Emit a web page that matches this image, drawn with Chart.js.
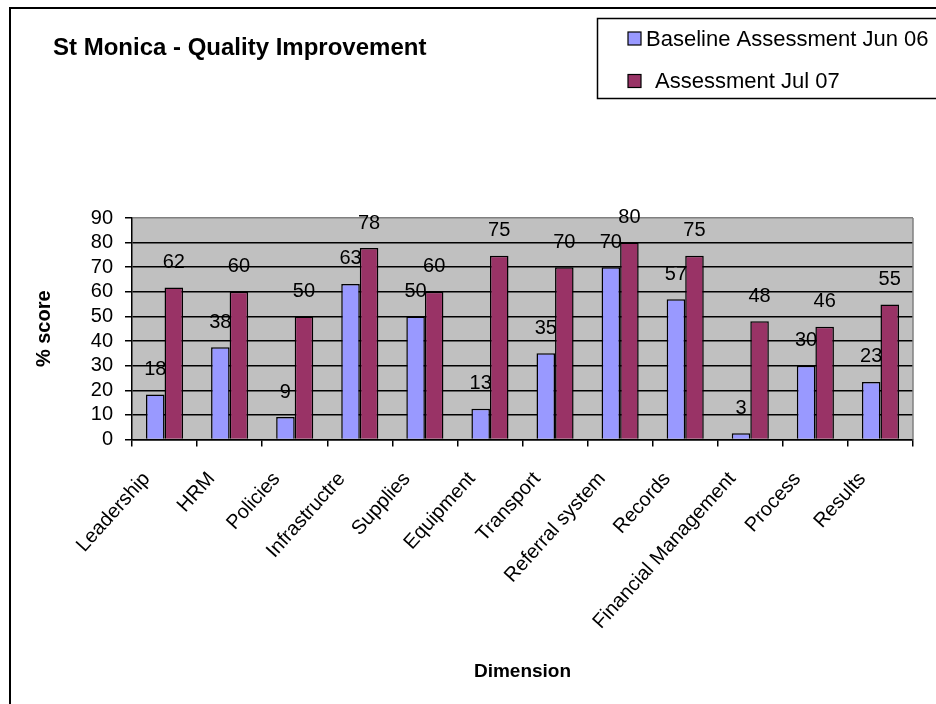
<!DOCTYPE html>
<html><head><meta charset="utf-8">
<script src="https://cdn.jsdelivr.net/npm/chart.js@4/dist/chart.umd.min.js"></script>
<style>html,body{margin:0;padding:0;background:#fff}canvas{display:block}</style>
</head><body>
<canvas id="c" width="936" height="704" style="width:936px;height:704px"></canvas>
<script>
const chartTitle = 'St Monica - Quality Improvement';
const categories = ['Leadership','HRM','Policies','Infrastructre','Supplies','Equipment','Transport','Referral system','Records','Financial Management','Process','Results'];
const baselineLabel = 'Baseline Assessment Jun 06';
const baselineValues = [18.3,37.5,9.1,63.2,50,12.5,35,70,57,2.5,30,23.4];
const followupLabel = 'Assessment Jul 07';
const followupValues = [61.8,60,50,77.8,60,74.7,70,80,74.7,48,45.8,54.9];
const yMin = 0, yMax = 90, yStep = 10;
const yAxisTitle = '% score';
const xAxisTitle = 'Dimension';
const colors = ['#9999FF','#993366'];

const FONT = "'Liberation Sans', Arial, Helvetica, sans-serif";

const decor = {
  id: 'decor',
  beforeDraw(chart) {
    const {ctx, chartArea: a} = chart;
    ctx.save();
    ctx.fillStyle = '#fff';
    ctx.fillRect(0, 0, chart.width, chart.height);
    ctx.fillStyle = '#C0C0C0';
    ctx.fillRect(a.left, a.top, a.right - a.left, a.bottom - a.top);
    ctx.restore();
  },
  afterDatasetsDraw(chart) {
    const ctx = chart.ctx;
    ctx.save();
    ctx.font = '20px ' + FONT;
    ctx.fillStyle = '#000';
    ctx.textAlign = 'center';
    ctx.textBaseline = 'middle';
    chart.data.datasets.forEach((ds, di) => {
      const meta = chart.getDatasetMeta(di);
      meta.data.forEach((bar, i) => {
        ctx.fillText(String(Math.round(ds.data[i])), bar.x, bar.y - 25);
      });
    });
    ctx.restore();
  },
  afterDraw(chart) {
    const {ctx, chartArea: a} = chart;
    ctx.save();
    // plot right edge (grey)
    ctx.strokeStyle = '#808080';
    ctx.lineWidth = 1.5;
    ctx.beginPath();
    ctx.moveTo(a.right, a.top);
    ctx.lineTo(a.right, a.bottom);
    ctx.stroke();
    // outer chart border
    ctx.strokeStyle = '#000';
    ctx.lineWidth = 2;
    ctx.strokeRect(10, 8, 1000, 800);
    // title
    ctx.fillStyle = '#000';
    ctx.font = 'bold 24px ' + FONT;
    ctx.textAlign = 'left';
    ctx.textBaseline = 'middle';
    ctx.fillText(chartTitle, 53, 48);
    // legend box
    ctx.lineWidth = 1.5;
    ctx.strokeRect(597.5, 18.5, 400, 80);
    ctx.font = '22px ' + FONT;
    const rows = [38.5, 81];
    chart.data.datasets.forEach((ds, i) => {
      const cy = rows[i];
      ctx.fillStyle = ds.backgroundColor;
      ctx.fillRect(628, cy - 6.5, 13, 13);
      ctx.lineWidth = 1.2;
      ctx.strokeStyle = '#000';
      ctx.strokeRect(628, cy - 6.5, 13, 13);
      ctx.fillStyle = '#000';
      ctx.fillText(ds.label, i === 0 ? 646 : 655, cy + 1);
    });
    // axis titles
    ctx.font = 'bold 19px ' + FONT;
    ctx.textAlign = 'center';
    ctx.fillText(xAxisTitle, (a.left + a.right) / 2, 672);
    ctx.font = 'bold 20px ' + FONT;
    ctx.translate(44, (a.top + a.bottom) / 2);
    ctx.rotate(-Math.PI / 2);
    ctx.fillText(yAxisTitle, 0, 0);
    ctx.restore();
  }
};

new Chart(document.getElementById('c'), {
  type: 'bar',
  data: {
    labels: categories,
    datasets: [
      {label: baselineLabel, data: baselineValues, backgroundColor: colors[0], borderColor: '#000', borderWidth: 1.5, borderSkipped: 'bottom'},
      {label: followupLabel, data: followupValues, backgroundColor: colors[1], borderColor: '#000', borderWidth: 1.5, borderSkipped: 'bottom'}
    ]
  },
  options: {
    responsive: false,
    devicePixelRatio: 1,
    animation: false,
    datasets: {bar: {categoryPercentage: 0.57, barPercentage: 1}},
    layout: {padding: {top: 218, right: 23, left: 0, bottom: 0}},
    plugins: {legend: {display: false}, title: {display: false}, tooltip: {enabled: false}},
    scales: {
      x: {
        grid: {display: true, drawOnChartArea: false, drawTicks: true, tickLength: 7, color: '#000', offset: true, lineWidth: 1.5},
        border: {display: true, color: '#000', width: 1.5},
        ticks: {autoSkip: false, minRotation: 48, maxRotation: 48, color: '#000', font: {family: FONT, size: 20}, padding: 21, labelOffset: -18},
        afterFit(s) { s.height = 704 - 218 - 221.5; }
      },
      y: {
        min: yMin, max: yMax,
        grid: {color: (c) => c.tick && c.tick.value === yMax ? '#808080' : '#000', tickColor: '#000', lineWidth: 1.5, tickLength: 7, drawTicks: true},
        border: {display: true, color: '#000', width: 1.5},
        ticks: {stepSize: yStep, autoSkip: false, color: '#000', font: {family: FONT, size: 20}, padding: 12},
        afterFit(s) { s.width = 132; }
      }
    }
  },
  plugins: [decor]
});
</script>
</body></html>
